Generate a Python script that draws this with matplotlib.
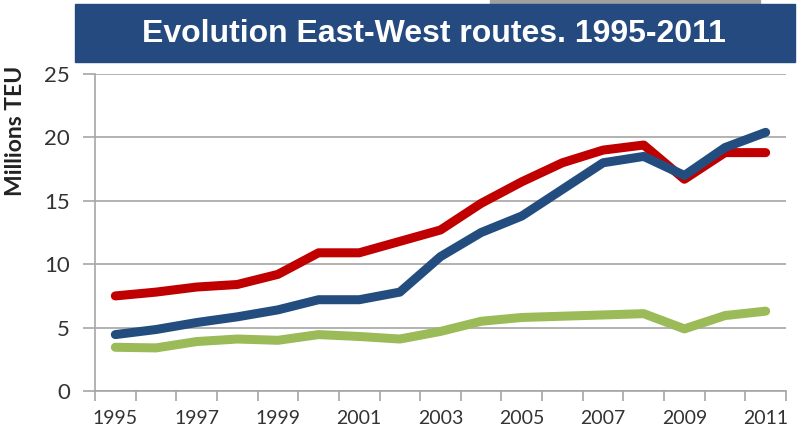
import matplotlib.pyplot as plt
from matplotlib.patches import Rectangle

years = list(range(1995, 2012))
# Millions TEU per route
red = [7.5, 7.8, 8.2, 8.4, 9.2, 10.9, 10.9, 11.8, 12.7, 14.8, 16.5, 18.0, 19.0, 19.4, 16.7, 18.8, 18.8]
blue = [4.45, 4.85, 5.4, 5.85, 6.4, 7.2, 7.2, 7.8, 10.6, 12.5, 13.8, 15.9, 18.0, 18.5, 17.0, 19.2, 20.4]
green = [3.45, 3.4, 3.9, 4.1, 4.0, 4.45, 4.3, 4.1, 4.7, 5.5, 5.8, 5.9, 6.0, 6.1, 4.9, 5.95, 6.3]
yticks = [0, 5, 10, 15, 20, 25]
title = "Evolution East-West routes. 1995-2011"

plt.rcParams['font.family'] = ['Lato', 'DejaVu Sans']

fig = plt.figure(figsize=(8.03, 4.45), dpi=100)
ax = fig.add_axes([0.1183, 0.1213, 0.8605, 0.7124])

x = list(range(len(years)))
ax.plot(x, red, color='#C00000', lw=6.5, solid_capstyle='round', solid_joinstyle='round', zorder=3)
ax.plot(x, blue, color='#234D7F', lw=6.5, solid_capstyle='round', solid_joinstyle='round', zorder=4)
ax.plot(x, green, color='#9BBB59', lw=6.5, solid_capstyle='round', solid_joinstyle='round', zorder=3)

ax.set_xlim(-0.5, len(years) - 0.5)
ax.set_ylim(0, 25)
ax.set_yticks(yticks)
ax.set_yticklabels([str(v) for v in yticks], fontsize=16, color='#333333')
ax.yaxis.grid(True, color='#a6a6a6', lw=1.2)
ax.set_axisbelow(True)

# labels on odd years, tick marks on category borders
ax.set_xticks(x[::2])
ax.set_xticklabels([str(y) for y in years[::2]], fontsize=14, color='#333333')
ax.set_xticks([i - 0.5 for i in range(len(years) + 1)], minor=True)
ax.tick_params(axis='x', which='major', length=0, pad=14)
ax.tick_params(axis='x', which='minor', length=7, color='#a6a6a6', width=1.2)
ax.tick_params(axis='y', length=9, color='#a6a6a6', width=1.2, pad=9)

for s in ['top', 'right']:
    ax.spines[s].set_visible(False)
for s in ['left', 'bottom']:
    ax.spines[s].set_color('#a6a6a6')
    ax.spines[s].set_linewidth(1.2)

fig.text(16 / 803, 1 - 131 / 445, 'Millions TEU', rotation=90, fontsize=16.5,
         fontweight='bold', color='#222222', ha='center', va='center')

# title banner
fig.patches.append(Rectangle((490 / 803, 1 - 4 / 445), 270 / 803, 4 / 445,
                             transform=fig.transFigure, color='#a0a0a0', zorder=0))
fig.patches.append(Rectangle((75 / 803, 1 - 62 / 445), 720 / 803, 58 / 445,
                             transform=fig.transFigure, color='#254A7F', zorder=1))
fig.text(434 / 803, 1 - 34 / 445, title, color='white', fontsize=23,
         fontweight='bold', ha='center', va='center',
         family=['Liberation Sans', 'DejaVu Sans'])

fig.savefig('out.png', dpi=100)
